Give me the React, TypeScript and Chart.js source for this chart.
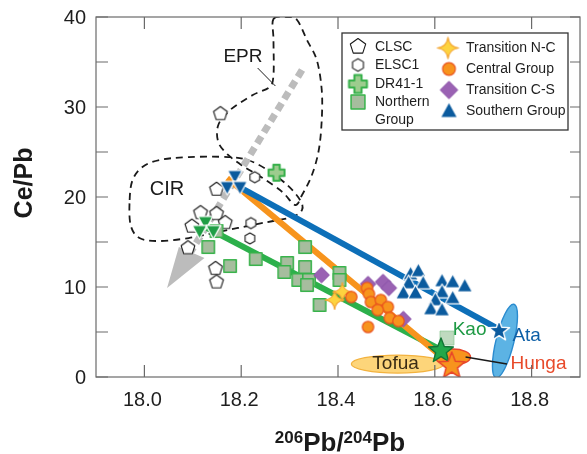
import { useEffect, useRef } from 'react';
import { Chart, registerables } from 'chart.js';
Chart.register(...registerables);

// ---------- axis ticks ----------
const X_TICKS = [18.0, 18.2, 18.4, 18.6, 18.8];
const X_TICK_LABELS = ['18.0', '18.2', '18.4', '18.6', '18.8'];
const Y_TICKS = [0, 10, 20, 30, 40];
const Y_TICK_LABELS = ['0', '10', '20', '30', '40'];
const Y_MINOR = [5, 15, 25, 35];

// ---------- data (206Pb/204Pb, Ce/Pb) ----------
const CLSC = [[18.149, 20.9], [18.116, 18.3], [18.149, 18.2], [18.098, 16.8], [18.167, 17.2], [18.090, 14.4], [18.147, 12.1], [18.149, 10.6], [18.157, 29.3]];
const ELSC1 = [[18.228, 22.2], [18.220, 17.1], [18.218, 15.4]];
const DR41_1 = [[18.273, 22.7]];
const NORTHERN = [[18.132, 14.44], [18.149, 16.22], [18.177, 12.33], [18.230, 13.11], [18.295, 12.67], [18.289, 11.67], [18.332, 14.44], [18.332, 12.22], [18.318, 10.78], [18.340, 10.78], [18.336, 10.22], [18.362, 8.0], [18.403, 11.56], [18.403, 10.78]];
const NORTHERN_FAINT = [[18.625, 4.33]];
const TRANSITION_NC = [[18.393, 8.56], [18.409, 9.44]];
const CENTRAL = [[18.4275, 8.89], [18.460, 9.89], [18.464, 9.22], [18.468, 8.33], [18.4885, 8.56], [18.503, 7.78], [18.482, 7.44], [18.507, 6.56], [18.525, 6.22], [18.462, 5.56]];
const TRANSITION_CS = [[18.366, 11.33], [18.462, 10.33], [18.493, 10.56], [18.505, 9.89], [18.535, 6.44]];
const SOUTHERN = [[18.550, 11.44], [18.566, 11.78], [18.546, 10.44], [18.576, 10.44], [18.535, 9.33], [18.560, 9.33], [18.615, 10.67], [18.637, 10.56], [18.662, 10.11], [18.615, 9.44], [18.637, 8.78], [18.601, 8.56], [18.592, 7.56], [18.615, 7.44]];
const NORTH_END = [[18.126, 17.22], [18.114, 16.22], [18.1425, 16.22]];
const SOUTH_END = [[18.187, 22.33], [18.171, 21.11], [18.1975, 21.11]];
const TREND_NORTH = [[18.128, 16.6], [18.613, 3.0]];
const TREND_CENTRAL = [[18.171, 22.1], [18.611, 2.4]];
const TREND_SOUTH = [[18.193, 21.2], [18.733, 5.3]];
const KAO = [[18.6127, 3.0]];
const HUNGA = [[18.635, 1.33]];
const ATA = [[18.7328, 5.22]];

// fields / outlines in data units
const EPR_OUTLINE = [[18.2667, 39.78], [18.2952, 40.0], [18.3155, 39.67], [18.3359, 37.44], [18.3562, 35.22], [18.3664, 31.89], [18.3664, 28.56], [18.3603, 25.22], [18.3461, 22.44], [18.3257, 20.22], [18.3115, 19.11], [18.285, 20.56], [18.2443, 22.11], [18.2036, 23.44], [18.173, 24.67], [18.1527, 26.11], [18.1527, 28.0], [18.1771, 29.67], [18.2239, 31.33], [18.2585, 32.22], [18.2667, 33.56], [18.2667, 37.44]];
const CIR_OUTLINE = [[17.9695, 19.67], [17.9756, 21.89], [17.9959, 23.33], [18.0305, 24.11], [18.0916, 24.44], [18.173, 24.44], [18.2137, 24.11], [18.2545, 23.0], [18.2952, 21.33], [18.3216, 19.67], [18.3257, 18.56], [18.3053, 17.78], [18.2545, 17.22], [18.1934, 16.56], [18.1425, 16.0], [18.0916, 15.44], [18.0305, 15.11], [17.9898, 15.44], [17.9715, 16.89]];
const EPR_LEADER = [[18.234, 34.33], [18.2707, 32.33]];
const ARROW_SHAFT = [[18.3257, 34.11], [18.0957, 13.89]];
const ARROW_HEAD = [[18.0468, 9.89], [18.0712, 14.44], [18.1242, 13.22]];
const TOFUA_FIELD = [18.5232, 1.44, 0.0957, 1.0];
const HUNGA_FIELD = [18.6372, 2.22, 0.0366, 0.89];
const ATA_FIELD = [18.745, 4.0, 0.0185, 4.2];
const HUNGA_LEADER = [[18.6636, 2.22], [18.7491, 1.44]];

// labels [text, x, y]
const FIELD_LABELS: [string, number, number, string][] = [
  ['EPR', 18.2036, 35.56, '#1a1a1a'],
  ['CIR', 18.0468, 20.89, '#1a1a1a'],
  ['Kao', 18.6718, 5.22, '#1f9a45'],
  ['Ata', 18.7898, 4.56, '#0d5fa6'],
  ['Hunga', 18.8142, 1.44, '#e84a2a'],
  ['Tofua', 18.519, 1.44, '#3a2c14'],
];

const LEGEND_LEFT = ['CLSC', 'ELSC1', 'DR41-1', 'Northern', 'Group'];
const LEGEND_RIGHT = ['Transition N-C', 'Central Group', 'Transition C-S', 'Southern Group'];

const FONT = '"Liberation Sans", Arial, Helvetica, sans-serif';

type Draw = (g: CanvasRenderingContext2D, c: number) => void;
function mk(size: number, draw: Draw) {
  const c = document.createElement('canvas');
  c.width = size;
  c.height = size;
  const g = c.getContext('2d')!;
  draw(g, size / 2);
  return c;
}
function polyPath(g: CanvasRenderingContext2D, cx: number, cy: number, r: number, n: number, start: number) {
  g.beginPath();
  for (let i = 0; i < n; i++) {
    const a = start + (i * 2 * Math.PI) / n;
    const x = cx + r * Math.cos(a);
    const y = cy + r * Math.sin(a);
    if (i === 0) g.moveTo(x, y);
    else g.lineTo(x, y);
  }
  g.closePath();
}
function starPath(g: CanvasRenderingContext2D, cx: number, cy: number, ro: number, ri: number, n: number) {
  g.beginPath();
  for (let i = 0; i < n * 2; i++) {
    const r = i % 2 === 0 ? ro : ri;
    const a = -Math.PI / 2 + (i * Math.PI) / n;
    const x = cx + r * Math.cos(a);
    const y = cy + r * Math.sin(a);
    if (i === 0) g.moveTo(x, y);
    else g.lineTo(x, y);
  }
  g.closePath();
}
function fs(g: CanvasRenderingContext2D, fill: string, stroke: string, lw: number) {
  g.fillStyle = fill;
  g.fill();
  if (lw > 0) {
    g.strokeStyle = stroke;
    g.lineWidth = lw;
    g.lineJoin = 'round';
    g.stroke();
  }
}

function makeMarkers(s: number) {
  return {
    pent: mk(Math.round(18 * s), (g, c) => { polyPath(g, c, c + 0.5 * s, 7.2 * s, 5, -Math.PI / 2); fs(g, '#ffffff', '#1a1a1a', 1.1); }),
    hex: mk(Math.round(15 * s), (g, c) => { polyPath(g, c, c, 5.6 * s, 6, -Math.PI / 2); fs(g, '#ffffff', '#1a1a1a', 1.1); }),
    cross: mk(Math.round(22 * s), (g, c) => {
      const a = 8 * s, b = 3.2 * s;
      g.beginPath();
      g.moveTo(c - b, c - a); g.lineTo(c + b, c - a); g.lineTo(c + b, c - b); g.lineTo(c + a, c - b); g.lineTo(c + a, c + b);
      g.lineTo(c + b, c + b); g.lineTo(c + b, c + a); g.lineTo(c - b, c + a); g.lineTo(c - b, c + b); g.lineTo(c - a, c + b);
      g.lineTo(c - a, c - b); g.lineTo(c - b, c - b); g.closePath();
      fs(g, '#9dcc8e', '#36b04a', 2);
    }),
    square: mk(Math.round(16 * s), (g, c) => { const h = 6.2 * s; g.beginPath(); g.rect(c - h, c - h, 2 * h, 2 * h); fs(g, '#a6bd9e', '#37b34a', 1.5); }),
    squareFaint: mk(Math.round(18 * s), (g, c) => { const h = 7 * s; g.beginPath(); g.rect(c - h, c - h, 2 * h, 2 * h); fs(g, 'rgba(170,205,170,0.75)', 'rgba(120,190,130,0.6)', 1); }),
    circle: mk(Math.round(15 * s), (g, c) => { g.beginPath(); g.arc(c, c, 5.7 * s, 0, Math.PI * 2); fs(g, '#f7941d', '#e9531f', 1.2); }),
    diamond: mk(Math.round(19 * s), (g, c) => { polyPath(g, c, c, 7.8 * s, 4, -Math.PI / 2); fs(g, '#9a62b3', '#8a52a8', 1); }),
    star4: mk(Math.round(24 * s), (g, c) => {
      const ro = 9.5 * s, ri = 2.6 * s;
      g.beginPath();
      for (let i = 0; i < 4; i++) {
        const a = -Math.PI / 2 + (i * Math.PI) / 2;
        const a2 = a + Math.PI / 4;
        const x = c + ro * Math.cos(a), y = c + ro * Math.sin(a);
        if (i === 0) g.moveTo(x, y);
        g.quadraticCurveTo(c + ri * Math.cos(a2) * 0.6, c + ri * Math.sin(a2) * 0.6, c + ro * Math.cos(a + Math.PI / 2), c + ro * Math.sin(a + Math.PI / 2));
      }
      g.closePath();
      fs(g, '#fdd33f', '#f3a535', 1.2);
    }),
    triUp: mk(Math.round(19 * s), (g, c) => {
      g.beginPath(); g.moveTo(c, c - 8 * s); g.lineTo(c + 7.6 * s, c + 5.8 * s); g.lineTo(c - 7.6 * s, c + 5.8 * s); g.closePath();
      fs(g, '#0b5b9e', '#ffffff', 1.2);
    }),
    triDownBlue: mk(Math.round(19 * s), (g, c) => {
      g.beginPath(); g.moveTo(c, c + 7.8 * s); g.lineTo(c + 7.4 * s, c - 5.6 * s); g.lineTo(c - 7.4 * s, c - 5.6 * s); g.closePath();
      fs(g, '#0b5b9e', '#ffffff', 1.2);
    }),
    triDownGreen: mk(Math.round(19 * s), (g, c) => {
      g.beginPath(); g.moveTo(c, c + 7.8 * s); g.lineTo(c + 7.4 * s, c - 5.6 * s); g.lineTo(c - 7.4 * s, c - 5.6 * s); g.closePath();
      fs(g, '#1f9e45', '#ffffff', 1.2);
    }),
    kao: mk(Math.round(32 * s), (g, c) => { starPath(g, c, c + 1, 13 * s, 5.6 * s, 5); fs(g, '#22a84a', '#137436', 1.4); }),
    hunga: mk(Math.round(34 * s), (g, c) => { starPath(g, c, c + 1, 14 * s, 6 * s, 5); fs(g, '#f7941d', '#e8452a', 1.5); }),
    ata: mk(Math.round(28 * s), (g, c) => { starPath(g, c, c + 1, 11 * s, 4.6 * s, 5); fs(g, '#0b5b9e', '#ffffff', 1.4); }),
  };
}

const pts = (arr: number[][]) => arr.map(([x, y]) => ({ x, y }));

function smoothClosed(ctx: CanvasRenderingContext2D, p: number[][]) {
  const n = p.length;
  ctx.beginPath();
  ctx.moveTo(p[0][0], p[0][1]);
  for (let i = 0; i < n; i++) {
    const p0 = p[(i - 1 + n) % n], p1 = p[i], p2 = p[(i + 1) % n], p3 = p[(i + 2) % n];
    ctx.bezierCurveTo(
      p1[0] + (p2[0] - p0[0]) / 6, p1[1] + (p2[1] - p0[1]) / 6,
      p2[0] - (p3[0] - p1[0]) / 6, p2[1] - (p3[1] - p1[1]) / 6,
      p2[0], p2[1]
    );
  }
  ctx.closePath();
}

export default function App() {
  const ref = useRef<HTMLCanvasElement>(null);
  useEffect(() => {
    const canvas = ref.current!;
    const M = makeMarkers(1);
    const L = makeMarkers(1.12);

    const underlay = {
      id: 'underlay',
      beforeDatasetsDraw(chart: any) {
        const { ctx, chartArea } = chart;
        const X = (v: number) => chart.scales.x.getPixelForValue(v);
        const Y = (v: number) => chart.scales.y.getPixelForValue(v);
        const toPx = (a: number[][]) => a.map(([x, y]) => [X(x), Y(y)]);
        ctx.save();
        ctx.beginPath();
        ctx.rect(chartArea.left, chartArea.top, chartArea.right - chartArea.left, chartArea.bottom - chartArea.top);
        ctx.clip();
        // dashed fields
        ctx.setLineDash([7, 5]);
        ctx.strokeStyle = '#1a1a1a';
        ctx.lineWidth = 1.8;
        smoothClosed(ctx, toPx(EPR_OUTLINE));
        ctx.stroke();
        smoothClosed(ctx, toPx(CIR_OUTLINE));
        ctx.stroke();
        ctx.setLineDash([]);
        // EPR leader
        ctx.lineWidth = 1;
        ctx.beginPath();
        ctx.moveTo(X(EPR_LEADER[0][0]), Y(EPR_LEADER[0][1]));
        ctx.lineTo(X(EPR_LEADER[1][0]), Y(EPR_LEADER[1][1]));
        ctx.stroke();
        // grey dotted arrow
        ctx.strokeStyle = '#bcbcbc';
        ctx.lineWidth = 7;
        ctx.setLineDash([8, 5]);
        ctx.beginPath();
        ctx.moveTo(X(ARROW_SHAFT[0][0]), Y(ARROW_SHAFT[0][1]));
        ctx.lineTo(X(ARROW_SHAFT[1][0]), Y(ARROW_SHAFT[1][1]));
        ctx.stroke();
        ctx.setLineDash([]);
        ctx.fillStyle = '#bcbcbc';
        ctx.beginPath();
        ARROW_HEAD.forEach(([x, y], i) => (i === 0 ? ctx.moveTo(X(x), Y(y)) : ctx.lineTo(X(x), Y(y))));
        ctx.closePath();
        ctx.fill();
        // fields as ellipses
        const ell = (f: number[], rot: number, fill: string, stroke: string, lw: number) => {
          const [cx, cy, rx, ry] = f;
          const rxp = Math.abs(X(cx + rx) - X(cx));
          const ryp = Math.abs(Y(cy + ry) - Y(cy));
          ctx.beginPath();
          ctx.ellipse(X(cx), Y(cy), rxp, ryp, rot, 0, Math.PI * 2);
          ctx.fillStyle = fill;
          ctx.fill();
          ctx.strokeStyle = stroke;
          ctx.lineWidth = lw;
          ctx.stroke();
        };
        ell(TOFUA_FIELD, 0, '#fdd57a', '#f3b23e', 1.2);
        ell(ATA_FIELD, 0.24, '#5cb3e4', '#2a8bcf', 1.4);
        ell(HUNGA_FIELD, 0, '#f7941d', '#e8452a', 1.4);
        ctx.restore();
      },
    };

    const overlay = {
      id: 'overlay',
      afterDraw(chart: any) {
        const { ctx, chartArea } = chart;
        const X = (v: number) => chart.scales.x.getPixelForValue(v);
        const Y = (v: number) => chart.scales.y.getPixelForValue(v);
        const { left, right, top, bottom } = chartArea;
        ctx.save();
        // Hunga leader
        ctx.strokeStyle = '#1a1a1a';
        ctx.lineWidth = 1.4;
        ctx.beginPath();
        ctx.moveTo(X(HUNGA_LEADER[0][0]), Y(HUNGA_LEADER[0][1]));
        ctx.lineTo(X(HUNGA_LEADER[1][0]), Y(HUNGA_LEADER[1][1]));
        ctx.stroke();
        // field labels
        ctx.textAlign = 'center';
        ctx.textBaseline = 'middle';
        FIELD_LABELS.forEach(([t, x, y, col]) => {
          ctx.font = `${t === 'CIR' ? 20 : 19}px ${FONT}`;
          ctx.fillStyle = col;
          ctx.fillText(t, X(x), Y(y));
        });
        // frame
        ctx.strokeStyle = '#6a6a6a';
        ctx.lineWidth = 1.2;
        ctx.strokeRect(left, top, right - left, bottom - top);
        // ticks
        ctx.beginPath();
        X_TICKS.forEach((v) => {
          const x = X(v);
          ctx.moveTo(x, bottom); ctx.lineTo(x, bottom - 12);
          ctx.moveTo(x, top); ctx.lineTo(x, top + 12);
        });
        [...Y_TICKS, ...Y_MINOR].forEach((v) => {
          const y = Y(v);
          ctx.moveTo(left, y); ctx.lineTo(left + 12, y);
          ctx.moveTo(right, y); ctx.lineTo(right - 10, y);
        });
        ctx.stroke();
        // tick labels
        ctx.fillStyle = '#1e1e1e';
        ctx.font = `20px ${FONT}`;
        ctx.textAlign = 'center';
        ctx.textBaseline = 'middle';
        X_TICKS.forEach((v, i) => ctx.fillText(X_TICK_LABELS[i], X(v) - 2, bottom + 23));
        ctx.textAlign = 'right';
        Y_TICKS.forEach((v, i) => ctx.fillText(Y_TICK_LABELS[i], left - 10, Y(v) + 1));
        // y title
        ctx.save();
        ctx.translate(25, 183);
        ctx.rotate(-Math.PI / 2);
        ctx.font = `bold 25px ${FONT}`;
        ctx.textAlign = 'center';
        ctx.textBaseline = 'middle';
        ctx.fillStyle = '#1a1a1a';
        ctx.fillText('Ce/Pb', 0, 0);
        ctx.restore();
        // x title with superscripts
        const parts: [string, boolean][] = [['206', true], ['Pb/', false], ['204', true], ['Pb', false]];
        const supF = `bold 17px ${FONT}`;
        const mainF = `bold 26px ${FONT}`;
        let tw = 0;
        parts.forEach(([t, sup]) => { ctx.font = sup ? supF : mainF; tw += ctx.measureText(t).width; });
        let cx = 340 - tw / 2;
        ctx.textAlign = 'left';
        ctx.textBaseline = 'alphabetic';
        ctx.fillStyle = '#1a1a1a';
        parts.forEach(([t, sup]) => {
          ctx.font = sup ? supF : mainF;
          ctx.fillText(t, cx, sup ? 443 : 451);
          cx += ctx.measureText(t).width;
        });
        // legend
        ctx.fillStyle = '#ffffff';
        ctx.fillRect(342, 33, 226, 97);
        ctx.strokeStyle = '#333';
        ctx.lineWidth = 1.3;
        ctx.strokeRect(342, 33, 226, 97);
        const img = (c: HTMLCanvasElement, x: number, y: number) => ctx.drawImage(c, x - c.width / 2, y - c.height / 2);
        img(L.pent, 358, 46);
        img(L.hex, 358, 65);
        img(L.cross, 358, 84);
        img(L.square, 358, 102);
        img(L.star4, 448, 48);
        img(L.circle, 449, 69);
        img(L.diamond, 449, 90);
        img(L.triUp, 449, 111);
        ctx.fillStyle = '#1e1e1e';
        ctx.font = `14px ${FONT}`;
        ctx.textAlign = 'left';
        ctx.textBaseline = 'middle';
        const ly = [47, 65, 84, 102, 120];
        LEGEND_LEFT.forEach((t, i) => ctx.fillText(t, 375, ly[i]));
        const ry = [48, 69, 90, 111];
        LEGEND_RIGHT.forEach((t, i) => ctx.fillText(t, 466, ry[i]));
        ctx.restore();
      },
    };

    const line = (data: number[][], color: string, order: number) => ({
      data: pts(data), showLine: true, borderColor: color, borderWidth: 6, pointRadius: 0, borderCapStyle: 'butt', order,
    });
    const scat = (data: number[][], style: HTMLCanvasElement, order: number) => ({
      data: pts(data), showLine: false, pointStyle: style, pointRadius: 6, order,
    });

    const chart = new Chart(canvas, {
      type: 'scatter',
      data: {
        datasets: [
          line(TREND_NORTH, '#2cb04b', 30),
          line(TREND_CENTRAL, '#f7941d', 29),
          line(TREND_SOUTH, '#0d6fb8', 28),
          scat(CLSC, M.pent, 20),
          scat(ELSC1, M.hex, 19),
          scat(DR41_1, M.cross, 18),
          scat(NORTHERN_FAINT, M.squareFaint, 17),
          scat(NORTHERN, M.square, 16),
          scat(TRANSITION_NC, M.star4, 15),
          scat(TRANSITION_CS, M.diamond, 14),
          scat(CENTRAL, M.circle, 13),
          scat(NORTH_END, M.triDownGreen, 12),
          scat(SOUTH_END, M.triDownBlue, 11),
          scat(SOUTHERN, M.triUp, 10),
          scat(ATA, M.ata, 3),
          scat(KAO, M.kao, 2),
          scat(HUNGA, M.hunga, 1),
        ] as any,
      },
      options: {
        responsive: false,
        animation: false,
        devicePixelRatio: 1,
        events: [],
        layout: { padding: { top: 17, right: 0, left: 0, bottom: 0 } },
        plugins: { legend: { display: false }, tooltip: { enabled: false } },
        scales: {
          x: {
            type: 'linear', min: 17.9, max: 18.9,
            grid: { display: false }, border: { display: false },
            ticks: { display: false },
            afterFit: (s: any) => { s.height = 77; },
          },
          y: {
            type: 'linear', min: 0, max: 40,
            grid: { display: false }, border: { display: false },
            ticks: { display: false },
            afterFit: (s: any) => { s.width = 96; },
          },
        },
      } as any,
      plugins: [underlay, overlay],
    });
    return () => chart.destroy();
  }, []);

  return (
    <div style={{ position: 'fixed', left: 0, top: 0, width: 587, height: 454, background: '#fff' }}>
      <canvas ref={ref} width={587} height={454} style={{ display: 'block', width: 587, height: 454 }} />
    </div>
  );
}
